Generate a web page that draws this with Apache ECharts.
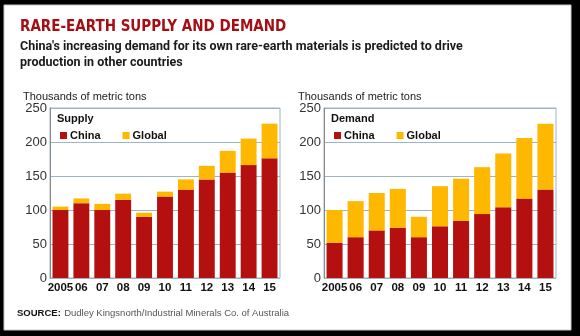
<!DOCTYPE html>
<html><head><meta charset="utf-8">
<script src="https://cdn.jsdelivr.net/npm/echarts@6/dist/echarts.min.js"></script>
<style>html,body{margin:0;padding:0;background:#000;}#c{width:580px;height:336px;}</style>
</head><body><div id="c"></div>
<script>
var years = ['2005','06','07','08','09','10','11','12','13','14','15'];
var supplyChina  = [100,110,100,115,90,120,130,145,155,166,176];
var supplyGlobal = [5,7,9,9,6,7,15,20,32,39,51];
var demandChina  = [52,60,70,74,60,76,84,94,104,117,130];
var demandGlobal = [48,53,55,57,30,59,62,69,79,89,97];
var yTicks = [0,50,100,150,200,250];

var RED = '#b3100f', GOLD = '#ffb800', GRID = '#9fb3c3';
var chart = echarts.init(document.getElementById('c'));
function yAx(i){return {gridIndex:i,type:'value',min:yTicks[0],max:yTicks[yTicks.length-1],interval:yTicks[1]-yTicks[0],
  axisLine:{show:true,lineStyle:{color:'#8a8a8a'}},axisTick:{show:false},
  axisLabel:{color:'#333',fontSize:13,fontFamily:'Liberation Sans',margin:3},
  splitLine:{lineStyle:{color:GRID,width:1}}};}
function xAx(i){return {gridIndex:i,type:'category',data:years,axisLine:{show:false},axisTick:{show:false},
  axisLabel:{color:'#111',fontSize:11.5,fontWeight:'bold',fontFamily:'Liberation Sans',margin:4,interval:0}};}
function bar(name,data,color,i,stack){return {name:name,type:'bar',stack:stack,xAxisIndex:i,yAxisIndex:i,data:data,
  itemStyle:{color:color},barCategoryGap:'24%',emphasis:{disabled:true}};}
chart.setOption({
  animation:false,
  backgroundColor:'#000',
  graphic:[
    {type:'rect',shape:{x:4,y:5,width:567,height:325},style:{fill:'#fff',stroke:'#c8c8c8',lineWidth:1},z:-10},
    {type:'text',left:20,top:20,style:{text:'RARE-EARTH SUPPLY AND DEMAND',fill:'#a50f14',font:'bold 15px "DejaVu Sans Condensed", "DejaVu Sans"'}},
    {type:'text',left:20,top:39,style:{text:"China's increasing demand for its own rare-earth materials is predicted to drive\nproduction in other countries",fill:'#1a1a1a',font:'bold 12.5px Roboto',lineHeight:16}},
    {type:'text',left:23,top:91,style:{text:'Thousands of metric tons',fill:'#222',font:'11px "Liberation Sans"'}},
    {type:'text',left:298,top:91,style:{text:'Thousands of metric tons',fill:'#222',font:'11px "Liberation Sans"'}},
    {type:'text',left:57,top:113,style:{text:'Supply',fill:'#111',font:'bold 11px "Liberation Sans"'}},
    {type:'text',left:331,top:113,style:{text:'Demand',fill:'#111',font:'bold 11px "Liberation Sans"'}},
    {type:'text',left:17,top:307,style:{rich:{b:{fontWeight:'bold',fontSize:9.5,fill:'#111',fontFamily:'Liberation Sans'},n:{fontSize:9.5,fill:'#555',fontFamily:'Liberation Sans'}},text:'{b|SOURCE:} {n|Dudley Kingsnorth/Industrial Minerals Co. of Australia}'}}
  ],
  legend:[
    {left:55,top:125,icon:'rect',itemWidth:7,itemHeight:7,itemGap:22,data:['China','Global'],
     textStyle:{fontSize:11,fontWeight:'bold',color:'#111',fontFamily:'Liberation Sans',padding:[0,0,0,-2]},selectedMode:false},
    {left:329,top:125,icon:'rect',itemWidth:7,itemHeight:7,itemGap:22,data:['China','Global'],
     textStyle:{fontSize:11,fontWeight:'bold',color:'#111',fontFamily:'Liberation Sans',padding:[0,0,0,-2]},selectedMode:false}
  ],
  grid:[
    {left:50,top:108,width:230,height:170,show:true,borderColor:GRID,borderWidth:1,backgroundColor:'transparent'},
    {left:324,top:108,width:232,height:170,show:true,borderColor:GRID,borderWidth:1,backgroundColor:'transparent'}
  ],
  xAxis:[xAx(0),xAx(1)],
  yAxis:[yAx(0),yAx(1)],
  series:[
    bar('China',supplyChina,RED,0,'s'),
    bar('Global',supplyGlobal,GOLD,0,'s'),
    bar('China',demandChina,RED,1,'d'),
    bar('Global',demandGlobal,GOLD,1,'d')
  ]
});
</script></body></html>
